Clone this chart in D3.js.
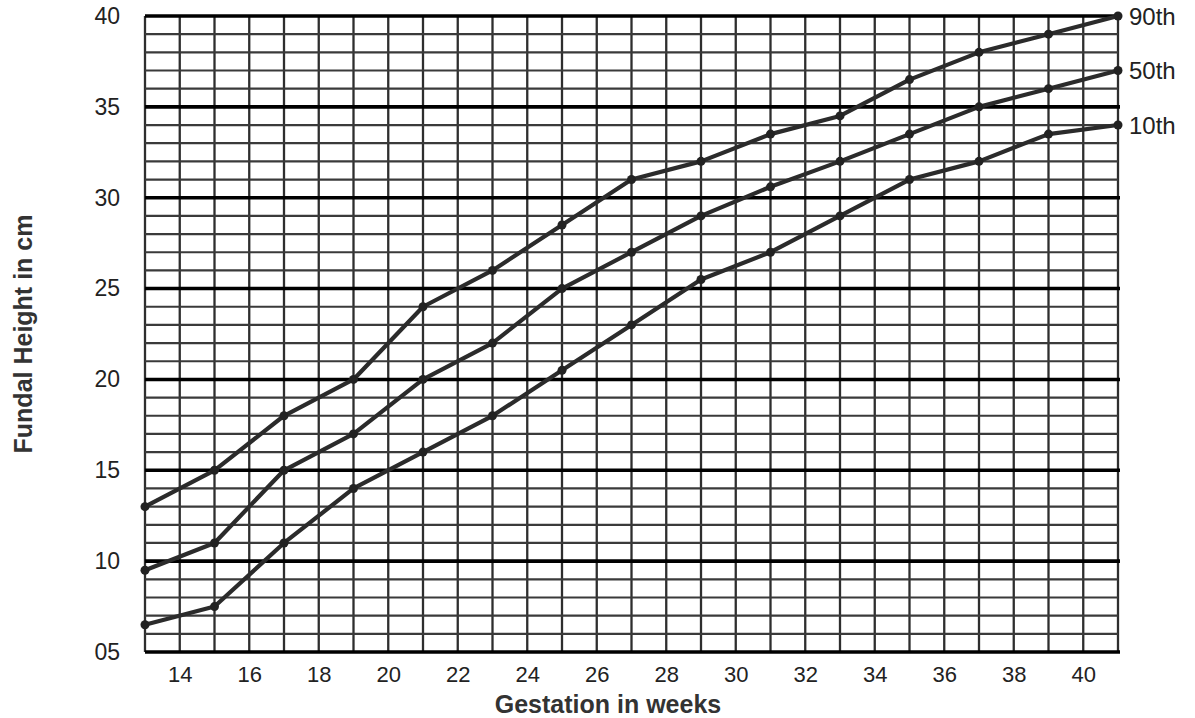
<!DOCTYPE html>
<html>
<head>
<meta charset="utf-8">
<script src="https://cdn.jsdelivr.net/npm/d3@7"></script>
<style>
  body { margin: 0; background: #fff; }
  svg text { font-family: "Liberation Sans", Arial, sans-serif; fill: #222; }
</style>
</head>
<body>
<div id="chart"></div>
<script>
/*
** Data
*/
var weeks = [13, 15, 17, 19, 21, 23, 25, 27, 29, 31, 33, 35, 37, 39, 41]
  , p90 = [13, 15, 18, 20, 24, 26, 28.5, 31, 32, 33.5, 34.5, 36.5, 38, 39, 40]
  , p50 = [9.5, 11, 15, 17, 20, 22, 25, 27, 29, 30.6, 32, 33.5, 35, 36, 37]
  , p10 = [6.5, 7.5, 11, 14, 16, 18, 20.5, 23, 25.5, 27, 29, 31, 32, 33.5, 34]
  , seriesNames = ["90th", "50th", "10th"]
  , xTicks = [14, 16, 18, 20, 22, 24, 26, 28, 30, 32, 34, 36, 38, 40]
  , yTicks = [5, 10, 15, 20, 25, 30, 35, 40]
;

var width = 1195
  , height = 718
  , margin = { top: 16, right: 77, bottom: 66, left: 145 }
  , w = width - margin.left - margin.right
  , h = height - margin.top - margin.bottom
;

var svg = d3.select("#chart").append("svg")
    .attr("width", width)
    .attr("height", height)
;
var g = svg.append("g")
    .attr("transform", "translate(" + margin.left + "," + margin.top + ")")
;

var x = d3.scaleLinear().domain([13, 41]).range([0, w])
  , y = d3.scaleLinear().domain([5, 40]).range([h, 0])
;

// thin grid: every week, every cm
g.append("g")
  .selectAll("line")
    .data(d3.range(13, 42))
  .enter().append("line")
    .attr("x1", function(d) { return x(d); })
    .attr("x2", function(d) { return x(d); })
    .attr("y1", 0)
    .attr("y2", h)
    .attr("stroke", "#2e2e2e")
    .attr("stroke-width", 2.3)
;
g.append("g")
  .selectAll("line")
    .data(d3.range(5, 41).filter(function(d) { return d % 5 !== 0; }))
  .enter().append("line")
    .attr("x1", 0)
    .attr("x2", w)
    .attr("y1", function(d) { return y(d); })
    .attr("y2", function(d) { return y(d); })
    .attr("stroke", "#3a3a3a")
    .attr("stroke-width", 2.2)
;
// heavy lines every 5 cm
g.append("g")
  .selectAll("line")
    .data(yTicks)
  .enter().append("line")
    .attr("x1", 0)
    .attr("x2", w + 2)
    .attr("y1", function(d) { return y(d); })
    .attr("y2", function(d) { return y(d); })
    .attr("stroke", "#000")
    .attr("stroke-width", 3.6)
;

// axes (labels only)
var xAxis = d3.axisBottom(x).tickValues(xTicks).tickSize(0).tickPadding(14);
var yAxis = d3.axisLeft(y).tickValues(yTicks).tickSize(0).tickPadding(25)
    .tickFormat(function(d) { return d < 10 ? "0" + d : d; });

g.append("g")
    .attr("transform", "translate(0," + h + ")")
    .call(xAxis)
    .call(function(s) { s.select(".domain").remove(); })
  .selectAll("text")
    .style("font-size", "22px")
    .style("fill", "#222")
;
g.append("g")
    .call(yAxis)
    .call(function(s) { s.select(".domain").remove(); })
  .selectAll("text")
    .style("font-size", "23px")
    .style("fill", "#222")
;

// percentile curves
var line = d3.line()
    .x(function(d) { return x(d[0]); })
    .y(function(d) { return y(d[1]); })
;
[p90, p50, p10].forEach(function(vals, i) {
    var pts = weeks.map(function(wk, j) { return [wk, vals[j]]; });
    var s = g.append("g").attr("class", "series");
    s.append("path")
        .datum(pts)
        .attr("d", line)
        .attr("fill", "none")
        .attr("stroke", "#2b2b2b")
        .attr("stroke-width", 4.2)
        .attr("stroke-linejoin", "round")
    ;
    s.selectAll("circle")
        .data(pts)
      .enter().append("circle")
        .attr("cx", function(d) { return x(d[0]); })
        .attr("cy", function(d) { return y(d[1]); })
        .attr("r", 4.5)
        .attr("fill", "#222")
    ;
    var last = pts[pts.length - 1];
    s.append("text")
        .attr("x", x(last[0]) + 11)
        .attr("y", y(last[1]))
        .attr("dy", "0.36em")
        .style("font-size", "24px")
        .text(seriesNames[i])
    ;
});

// titles
svg.append("text")
    .attr("x", 608)
    .attr("y", 713)
    .attr("text-anchor", "middle")
    .style("font-size", "25px")
    .style("font-weight", "bold")
    .style("fill", "#333")
    .text("Gestation in weeks")
;
svg.append("text")
    .attr("transform", "translate(32," + (margin.top + h / 2) + ") rotate(-90)")
    .attr("text-anchor", "middle")
    .style("font-size", "25px")
    .style("font-weight", "bold")
    .style("fill", "#333")
    .text("Fundal Height in cm")
;
</script>
</body>
</html>
